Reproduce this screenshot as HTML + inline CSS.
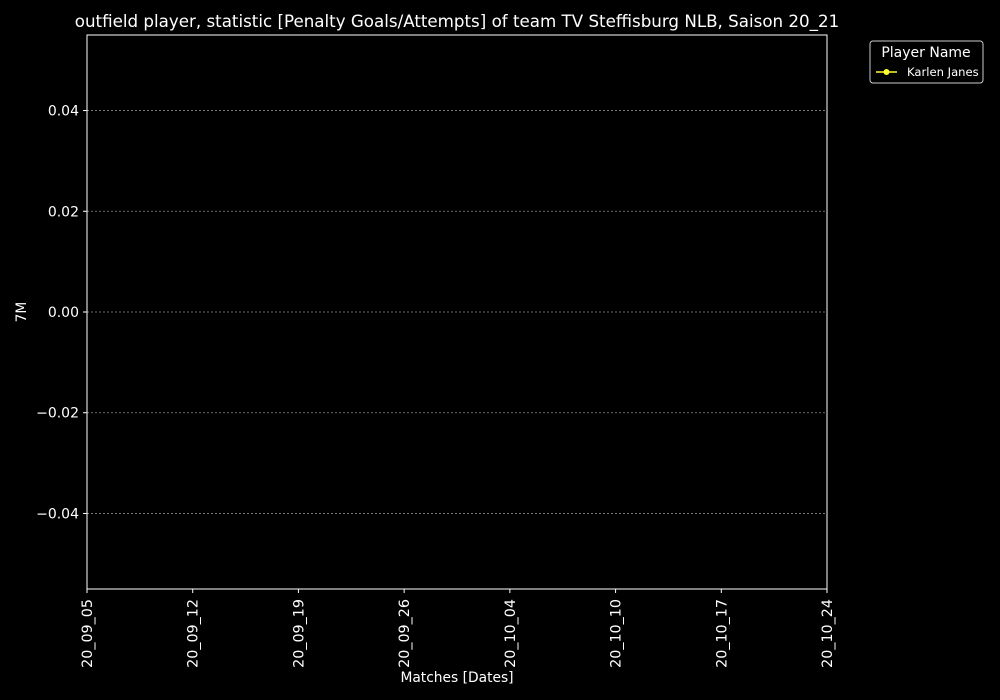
<!DOCTYPE html>
<html><head><meta charset="utf-8"><style>
html,body{margin:0;padding:0;background:#000;}
svg{display:block;font-family:"DejaVu Sans","Liberation Sans",sans-serif;}
</style></head><body>
<svg id="chart" width="1000" height="700" xmlns="http://www.w3.org/2000/svg">
<rect width="1000" height="700" fill="#000"/>
<text x="457" y="27" fill="#fff" font-size="16.7" text-anchor="middle">outfield player, statistic [Penalty Goals/Attempts] of team TV Steffisburg NLB, Saison 20_21</text>
<g id="grid"></g>
<g id="yticks"></g>
<g id="xticks"></g>
<g id="series"></g>
<rect x="87" y="35" width="740" height="554" fill="none" stroke="#fff" stroke-width="1"/>
<text x="457" y="682" fill="#fff" font-size="13.8" text-anchor="middle">Matches [Dates]</text>
<text transform="translate(26,312) rotate(-90)" fill="#fff" font-size="13.8" text-anchor="middle">7M</text>
<g>
<rect x="870" y="41" width="113" height="42" rx="3" fill="#000" stroke="#ccc" stroke-width="1"/>
<text x="926" y="57" fill="#fff" font-size="14" text-anchor="middle">Player Name</text>
<line x1="876" y1="72" x2="897" y2="72" stroke="#ffff33" stroke-width="1.5"/>
<circle cx="886.5" cy="72" r="3" fill="#ffff33"/>
<text x="907" y="76" fill="#fff" font-size="11.6">Karlen Janes</text>
</g>
</svg>
<script>
const categories = ["20_09_05","20_09_12","20_09_19","20_09_26","20_10_04","20_10_10","20_10_17","20_10_24"];
const yTicks = [0.04,0.02,0.00,-0.02,-0.04];
const yTickLabels = ["0.04","0.02","0.00","\u22120.02","\u22120.04"];
const karlenJanesValues = [];
const NS="http://www.w3.org/2000/svg";
const L=87,R=827,T=35,B=589,yMin=-0.055,yMax=0.055;
function xs(i){return L+(R-L)*i/(categories.length-1);}
function ys(v){return B-(v-yMin)/(yMax-yMin)*(B-T);}
function mk(tag,attrs,parent){const e=document.createElementNS(NS,tag);for(const k in attrs)e.setAttribute(k,attrs[k]);parent.appendChild(e);return e;}
const grid=document.getElementById('grid'),yt=document.getElementById('yticks'),xt=document.getElementById('xticks'),ser=document.getElementById('series');
yTicks.forEach((v,i)=>{
  const y=ys(v);
  const g=mk('line',{x1:L,x2:R,y1:y,y2:y,stroke:'#888','stroke-width':0.8,'stroke-dasharray':'2,2'},grid);
  
  
  const t=mk('line',{x1:L-4,x2:L,y1:y,y2:y,stroke:'#fff'},yt);
  
  
  const tx=mk('text',{x:L-8,y:y+5,fill:'#fff','font-size':14,'text-anchor':'end'},yt);
  tx.textContent=yTickLabels[i];
  
  
});
categories.forEach((c,i)=>{
  const x=xs(i);
  const t=mk('line',{x1:x,x2:x,y1:B,y2:B+4,stroke:'#fff'},xt);
  
  
  const tx=mk('text',{transform:`translate(${x+5},${B+10}) rotate(-90)`,fill:'#fff','font-size':14.3,'text-anchor':'end'},xt);
  tx.textContent=c;
  
  
});
if(karlenJanesValues.length){
  const pts=karlenJanesValues.map((v,i)=>xs(i)+','+ys(v)).join(' ');
  const pl=mk('polyline',{points:pts,fill:'none',stroke:'#ffff33','stroke-width':1.5},ser);
  
  
  karlenJanesValues.forEach((v,i)=>{
    const c=mk('circle',{cx:xs(i),cy:ys(v),r:3,fill:'#ffff33'},ser);
    
    
  });
}
</script>
</body></html>
